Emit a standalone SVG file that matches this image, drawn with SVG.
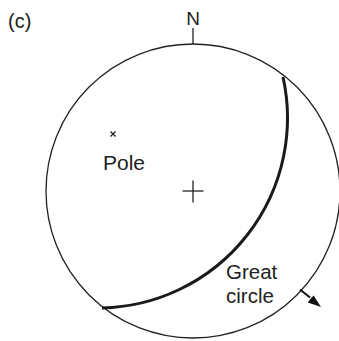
<svg xmlns="http://www.w3.org/2000/svg" width="339" height="341" viewBox="0 0 339 341">
<style>
text{font-family:"Liberation Sans",Arial,sans-serif;fill:#222}
.thin{fill:none;stroke:#222;stroke-width:1.3}
</style>
<rect width="339" height="341" fill="#fff"/>
<text x="8" y="28" font-size="20">(c)</text>
<g id="primitive">
<circle class="thin" cx="193" cy="191" r="147"/>
<line class="thin" x1="193" y1="28" x2="193" y2="44"/>
<text x="193" y="25" font-size="19" text-anchor="middle">N</text>
</g>
<g id="centre">
<line class="thin" x1="182.5" y1="191" x2="203.5" y2="191"/>
<line class="thin" x1="193" y1="180.5" x2="193" y2="202.5"/>
</g>
<g id="pole">
<path class="thin" d="M110.5,131.5 l5,5 M115.5,131.5 l-5,5"/>
<text x="103" y="170" font-size="21">Pole</text>
</g>
<g id="great-circle">
<path d="M283,77 A190,190 0 0 1 102,308" fill="none" stroke="#1a1a1a" stroke-width="3"/>
<text x="226" y="279" font-size="20.5">Great</text>
<text x="226" y="303" font-size="20.5">circle</text>
</g>
<g id="connectors">
<line x1="300" y1="289.5" x2="310" y2="297.5" stroke="#111" stroke-width="2"/>
<polygon points="321,307 307.8,302.5 310.5,298.8 313.6,295.4" fill="#111"/>
</g>
</svg>
